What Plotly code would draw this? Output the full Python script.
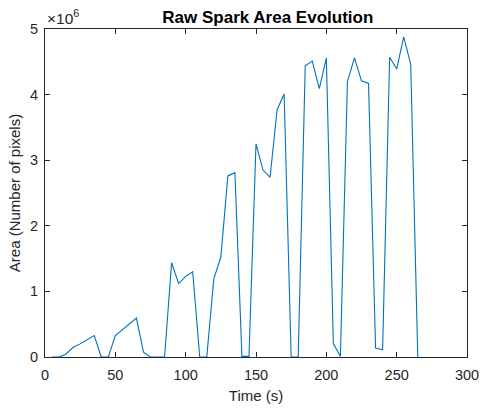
import plotly.graph_objects as go

# Sample times (s) and raw spark area (pixels)
time_s = [5, 10, 15, 20, 25, 30, 35, 40, 45, 50, 55, 60, 65, 70, 75, 80, 85, 90, 95, 100,
          105, 110, 115, 120, 125, 130, 135, 140, 145, 150, 155, 160, 165, 170, 175, 180,
          185, 190, 195, 200, 205, 210, 215, 220, 225, 230, 235, 240, 245, 250, 255, 260, 265]
area_px = [0, 0, 0.046e6, 0.148e6, 0.20e6, 0.26e6, 0.327e6, 0, 0, 0.327e6, 0.42e6, 0.50e6,
           0.593e6, 0.075e6, 0, 0, 0, 1.437e6, 1.12e6, 1.23e6, 1.30e6, 0, 0, 1.19e6, 1.52e6,
           2.76e6, 2.81e6, 0.01e6, 0.01e6, 3.25e6, 2.85e6, 2.74e6, 3.77e6, 4.01e6, 0, 0,
           4.44e6, 4.51e6, 4.09e6, 4.56e6, 0.20e6, 0.01e6, 4.20e6, 4.56e6, 4.21e6, 4.17e6,
           0.137e6, 0.11e6, 4.57e6, 4.39e6, 4.88e6, 4.46e6, 0]

x_ticks = [0, 50, 100, 150, 200, 250, 300]
y_ticks = [0, 1e6, 2e6, 3e6, 4e6, 5e6]
y_tick_text = ["0", "1", "2", "3", "4", "5"]

FONT = "Liberation Sans, Arial, Helvetica, sans-serif"
AX = "#262626"

fig = go.Figure(go.Scatter(x=time_s, y=area_px, mode="lines",
                           line=dict(color="#0072BD", width=1.1)))

axis_common = dict(showgrid=False, zeroline=False, showline=True, linecolor=AX, linewidth=1,
                   mirror="ticks", ticks="inside", ticklen=5, tickcolor=AX, tickwidth=1,
                   automargin=False,
                   tickfont=dict(family=FONT, size=14.5, color=AX))

fig.update_xaxes(range=[0, 300], tickvals=x_ticks, ticktext=[str(v) for v in x_ticks],
                 ticklabelstandoff=5,
                 title=dict(text="Time (s)", font=dict(family=FONT, size=15, color=AX), standoff=8),
                 **axis_common)
fig.update_yaxes(range=[0, 5e6], tickvals=y_ticks, ticktext=y_tick_text,
                 ticklabelstandoff=3,
                 title=dict(text="Area (Number of pixels)", font=dict(family=FONT, size=15, color=AX), standoff=5),
                 **axis_common)

fig.update_layout(
    width=483, height=410,
    margin=dict(l=45, r=16, t=29, b=53),
    paper_bgcolor="white", plot_bgcolor="white",
    showlegend=False,
    title=dict(text="<b>Raw Spark Area Evolution</b>", x=0.528, xref="paper", xanchor="center",
               y=1 - 17 / 410, yanchor="middle", font=dict(family=FONT, size=17, color="black")),
    annotations=[dict(text="×10<sup>6</sup>", xref="paper", yref="paper", x=0, y=1,
                      xanchor="left", yanchor="bottom", showarrow=False, yshift=0,
                      font=dict(family=FONT, size=15.5, color=AX))],
)

fig.write_html("out.html")
